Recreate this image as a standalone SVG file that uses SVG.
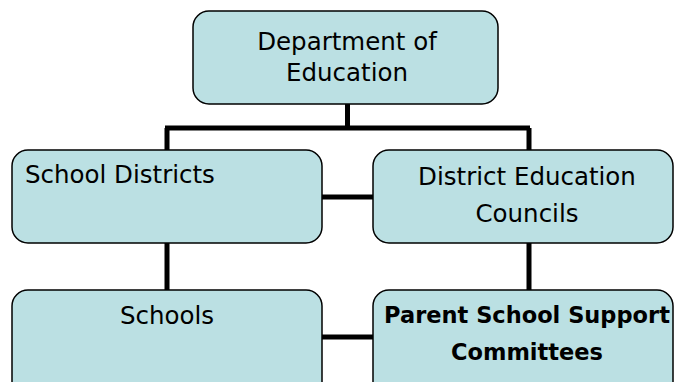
<svg xmlns="http://www.w3.org/2000/svg" width="675" height="382" viewBox="0 0 675 382">
<style>
.box{fill:#bbe0e3;stroke:#000;stroke-width:1.5}
.t{font-family:"DejaVu Sans","Liberation Sans",sans-serif;font-size:24.5px;fill:#000}
.b{font-weight:bold;font-size:22.5px}
.c{fill:none;stroke:#000;stroke-width:5}
</style>
<rect width="675" height="382" fill="#fff"/>
<g id="connectors">
<path class="c" d="M347.5 104V128M165 128H530M167 128V150M529 128V150M167 243V290M529 243V290M322 197H373M322 337H373"/>
</g>
<g id="dept">
<rect class="box" x="193" y="11" width="305" height="93" rx="16"/>
<text class="t" x="347" y="50" text-anchor="middle">Department of</text>
<text class="t" x="347" y="81" text-anchor="middle">Education</text>
</g>
<g id="districts">
<rect class="box" x="12" y="150" width="310" height="93" rx="16"/>
<text class="t" x="25" y="183">School Districts</text>
</g>
<g id="dec">
<rect class="box" x="373" y="150" width="300" height="93" rx="16"/>
<text class="t" x="527" y="185" text-anchor="middle">District Education</text>
<text class="t" x="527" y="222" text-anchor="middle">Councils</text>
</g>
<g id="schools">
<rect class="box" x="12" y="290" width="310" height="110" rx="16"/>
<text class="t" x="167" y="324" text-anchor="middle">Schools</text>
</g>
<g id="pssc">
<rect class="box" x="373" y="290" width="300" height="110" rx="16"/>
<text class="t b" x="527" y="323" text-anchor="middle">Parent School Support</text>
<text class="t b" x="527" y="360" text-anchor="middle">Committees</text>
</g>
</svg>
